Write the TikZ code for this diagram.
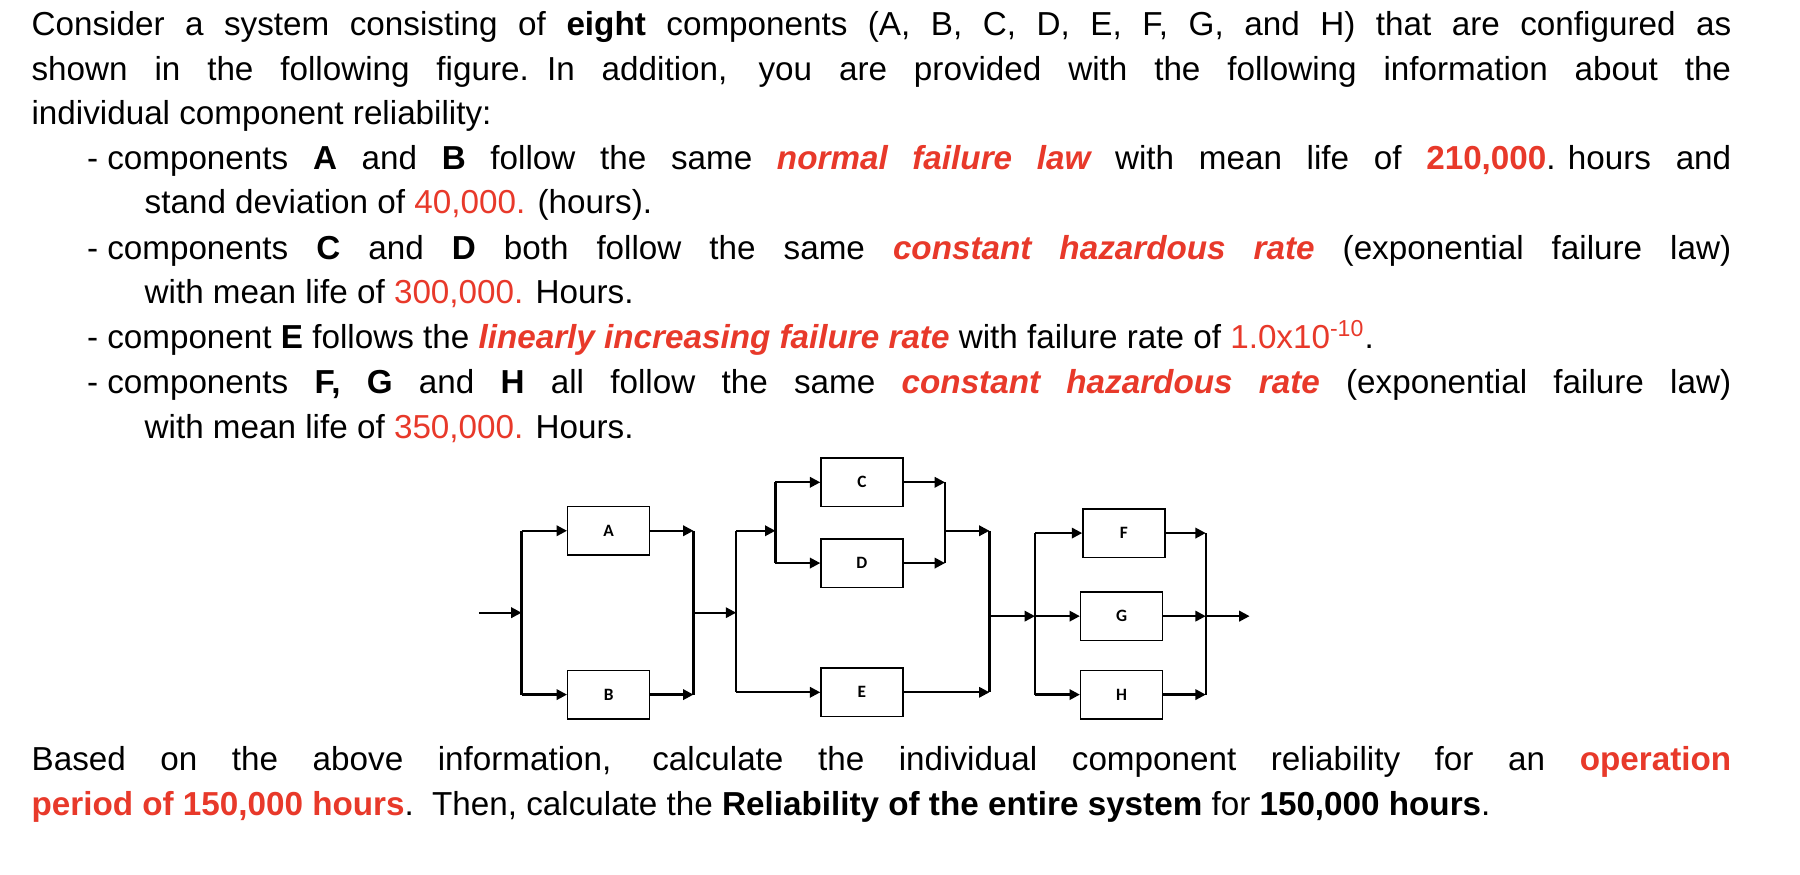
\documentclass[tikz,border=0pt]{standalone}
\usepackage{fontspec}
\setmainfont{Liberation Sans}
\newfontfamily\lblfont{Carlito}
\usetikzlibrary{arrows.meta}
\definecolor{hl}{RGB}{232,57,42}
\newcommand{\rd}[1]{\textcolor{hl}{#1}}
\newcommand{\rb}[1]{\textcolor{hl}{\bfseries #1}}
\newcommand{\rbi}[1]{\textcolor{hl}{\bfseries\itshape #1}}
\begin{document}
\begin{tikzpicture}[x=0.5pt,y=-0.5pt,
  txt/.style={anchor=base west,inner sep=0pt,font=\fontsize{14.4}{19.5}\selectfont},
  box/.style={draw,line width=0.6pt,minimum width=35.5pt,minimum height=21pt,inner sep=0pt,font=\lblfont\bfseries\fontsize{7.5}{9}\selectfont},
  ln/.style={line width=1pt},
  ar/.style={line width=1pt,-{Triangle[length=4.5pt,width=4.5pt]}}]
\useasboundingbox[fill=white] (0,0) rectangle (1560,758);
% text
\node[txt] (l1) at (27,31) {\makebox[736.5pt][s]{Consider a system consisting of \textbf{eight} components (A, B, C, D, E, F, G, and H) that are configured as}};
\node[txt] (l2) at (27,70) {\makebox[736.5pt][s]{shown in the following figure.\hspace{0.55em}In addition, you are provided with the following information about the}};
\node[txt] (l3) at (27,108) {individual component reliability:};
\node[txt] (l4) at (75,147) {\makebox[712.5pt][s]{\mbox{- components} \textbf{A} and \textbf{B} follow the same \rbi{normal\ failure\ law} with mean life of \mbox{\rb{210,000}. hours} and}};
\node[txt] (l5) at (125,185) {stand deviation of \rd{40,000.} (hours).};
\node[txt] (l6) at (75,225) {\makebox[712.5pt][s]{\mbox{- components} \textbf{C} and \textbf{D} both follow the same \rbi{constant hazardous rate} (exponential failure law)}};
\node[txt] (l7) at (125,263) {with mean life of \rd{300,000.} Hours.};
\node[txt] (l8) at (75,302) {- component \textbf{E} follows the \rbi{linearly increasing failure rate} with failure rate of \rd{1.0x10\textsuperscript{-10}}.};
\node[txt] (l9) at (75,341) {\makebox[712.5pt][s]{\mbox{- components} \textbf{F, G} and \textbf{H} all follow the same \rbi{constant hazardous rate} (exponential failure law)}};
\node[txt] (l10) at (125,380) {with mean life of \rd{350,000.} Hours.};
\node[txt] (l11) at (27,668) {\makebox[736.5pt][s]{Based on the above information, calculate the individual component reliability for an \rb{operation}}};
\node[txt] (l12) at (27,707) {\rb{period of 150,000 hours}.\hspace{0.55em}Then, calculate the \textbf{Reliability of the entire system} for \textbf{150,000 hours}.};
% boxes
\node[box] (A) at (527.5,460) {A};
\node[box] (B) at (527.5,602) {B};
\node[box] (C) at (747,418) {C};
\node[box] (D) at (747,488) {D};
\node[box] (E) at (747,600) {E};
\node[box] (F) at (974,462) {F};
\node[box] (G) at (972,534) {G};
\node[box] (H) at (972,602) {H};
% coordinates
\coordinate (in) at (415,531);
\coordinate (b1t) at (452,460); \coordinate (b1m) at (452,531); \coordinate (b1b) at (452,602);
\coordinate (b2t) at (601,460); \coordinate (b2m) at (601,531); \coordinate (b2b) at (601,602);
\coordinate (b3t) at (638,460); \coordinate (b3m) at (638,531); \coordinate (b3b) at (638,600);
\coordinate (i1t) at (672,418); \coordinate (i1m) at (672,460); \coordinate (i1b) at (672,488);
\coordinate (i2t) at (819,418); \coordinate (i2m) at (819,460); \coordinate (i2b) at (819,488);
\coordinate (b4t) at (857.5,460); \coordinate (b4m) at (857.5,534); \coordinate (b4b) at (857.5,600);
\coordinate (b5t) at (897,462); \coordinate (b5m) at (897,534); \coordinate (b5b) at (897,602);
\coordinate (b6t) at (1045,462); \coordinate (b6m) at (1045,534); \coordinate (b6b) at (1045,602);
\coordinate (out) at (1083,534);
% stage 1
\draw[ar] (in) -- (b1m);
\draw[ln] (b1t) -- (b1b);
\draw[ar] (b1t) -- (A.west);
\draw[ar] (b1b) -- (B.west);
\draw[ar] (A.east) -- (b2t);
\draw[ar] (B.east) -- (b2b);
\draw[ln] (b2t) -- (b2b);
% stage 2
\draw[ar] (b2m) -- (b3m);
\draw[ln] (b3t) -- (b3b);
\draw[ar] (b3t) -- (i1m);
\draw[ln] (i1t) -- (i1b);
\draw[ar] (i1t) -- (C.west);
\draw[ar] (i1b) -- (D.west);
\draw[ar] (C.east) -- (i2t);
\draw[ar] (D.east) -- (i2b);
\draw[ln] (i2t) -- (i2b);
\draw[ar] (i2m) -- (b4t);
\draw[ar] (b3b) -- (E.west);
\draw[ar] (E.east) -- (b4b);
\draw[ln] (b4t) -- (b4b);
% stage 3
\draw[ar] (b4m) -- (b5m);
\draw[ln] (b5t) -- (b5b);
\draw[ar] (b5t) -- (F.west);
\draw[ar] (b5m) -- (G.west);
\draw[ar] (b5b) -- (H.west);
\draw[ar] (F.east) -- (b6t);
\draw[ar] (G.east) -- (b6m);
\draw[ar] (H.east) -- (b6b);
\draw[ln] (b6t) -- (b6b);
\draw[ar] (b6m) -- (out);
\end{tikzpicture}
\end{document}
